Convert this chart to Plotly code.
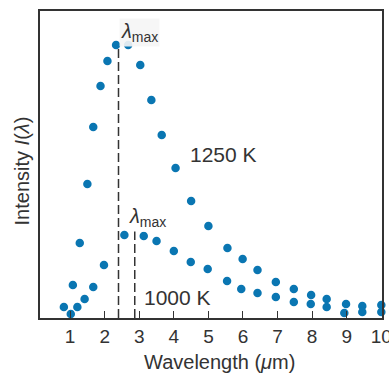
import plotly.graph_objects as go

# Data (intensity in arbitrary units)
x_1250 = [0.82, 1.08, 1.28, 1.50, 1.67, 1.88, 2.08, 2.33, 2.68, 3.03, 3.35, 3.65, 4.05,
          4.50, 5.00, 5.55, 5.99, 6.42, 6.95, 7.47, 7.97, 8.42, 8.98, 9.45, 10.0]
y_1250 = [11, 33, 75, 134, 191, 232, 257, 273, 273, 253, 218, 183, 150,
          117, 92, 70, 59, 48, 36, 29, 23, 19, 14, 12, 13]
x_1000 = [1.02, 1.21, 1.42, 1.67, 1.98, 2.57, 3.13, 3.50, 4.00, 4.49, 4.98, 5.54, 5.95,
          6.42, 6.95, 7.47, 7.96, 8.42, 8.93, 9.45, 10.0]
y_1000 = [4, 11, 19, 31, 53, 83, 82, 77, 67, 56, 49, 37, 29,
          25, 21, 16, 14, 11, 5, 6, 6]

lam_max = [2.40, 2.87]
lam_top = [271, 91]

x_ticks = [1, 2, 3, 4, 5, 6, 7, 8, 9, 10]

dot_color = "#0a76b2"
ink = "#333333"
font_family = "Liberation Sans, Arial, sans-serif"

fig = go.Figure()
for lx, ly in zip(lam_max, lam_top):
    fig.add_trace(go.Scatter(x=[lx, lx], y=[0, ly], mode="lines",
                             line=dict(color=ink, width=1.5, dash="9px,4px"),
                             hoverinfo="skip", showlegend=False))
fig.add_trace(go.Scatter(x=x_1250, y=y_1250, mode="markers", name="1250 K",
                         marker=dict(color=dot_color, size=8.5), cliponaxis=False,
                         showlegend=False))
fig.add_trace(go.Scatter(x=x_1000, y=y_1000, mode="markers", name="1000 K",
                         marker=dict(color=dot_color, size=8.5), cliponaxis=False,
                         showlegend=False))

ann_font = dict(family=font_family, size=21, color=ink)
lam_font = dict(family=font_family, size=20, color=ink)
fig.add_annotation(x=5.45, y=164, text="1250 K", showarrow=False, font=ann_font)
fig.add_annotation(x=4.12, y=21, text="1000 K", showarrow=False, font=ann_font)
fig.add_annotation(x=3.01, y=286, text="<i>λ</i><sub>max</sub>", showarrow=False,
                   font=lam_font, bgcolor="rgba(245,245,245,0.9)")
fig.add_annotation(x=3.24, y=101, text="<i>λ</i><sub>max</sub>", showarrow=False,
                   font=lam_font, bgcolor="white")
# axis titles
fig.add_annotation(xref="paper", yref="paper", x=0.526, y=-0.143,
                   text="Wavelength (<i>μ</i>m)", showarrow=False,
                   font=dict(family=font_family, size=20, color=ink),
                   xanchor="center", yanchor="middle")
fig.add_annotation(xref="paper", yref="paper", x=-0.054, y=0.479,
                   text="Intensity <i>I</i>(<i>λ</i>)", showarrow=False, textangle=-90,
                   font=dict(family=font_family, size=20, color=ink),
                   xanchor="center", yanchor="middle")

fig.update_layout(
    width=389, height=375,
    margin=dict(l=40, r=7, t=11, b=57),
    paper_bgcolor="white", plot_bgcolor="white",
    font=dict(family=font_family, size=19, color=ink),
    xaxis=dict(range=[0.13, 10.02], tickvals=x_ticks, ticks="inside", ticklen=7,
               tickwidth=1.3, tickcolor=ink, showgrid=False, zeroline=False,
               showline=True, linecolor=ink, linewidth=1.5, mirror=True,
               automargin=False, ticklabeloverflow="allow",
               tickfont=dict(size=19)),
    yaxis=dict(range=[0, 307], showticklabels=False, ticks="", showgrid=False,
               zeroline=False, showline=True, linecolor=ink, linewidth=1.5,
               mirror=True, automargin=False),
)

fig.write_html("out.html", config={"displayModeBar": False},
               post_script="document.body.style.margin='0';document.body.style.overflow='hidden';")
